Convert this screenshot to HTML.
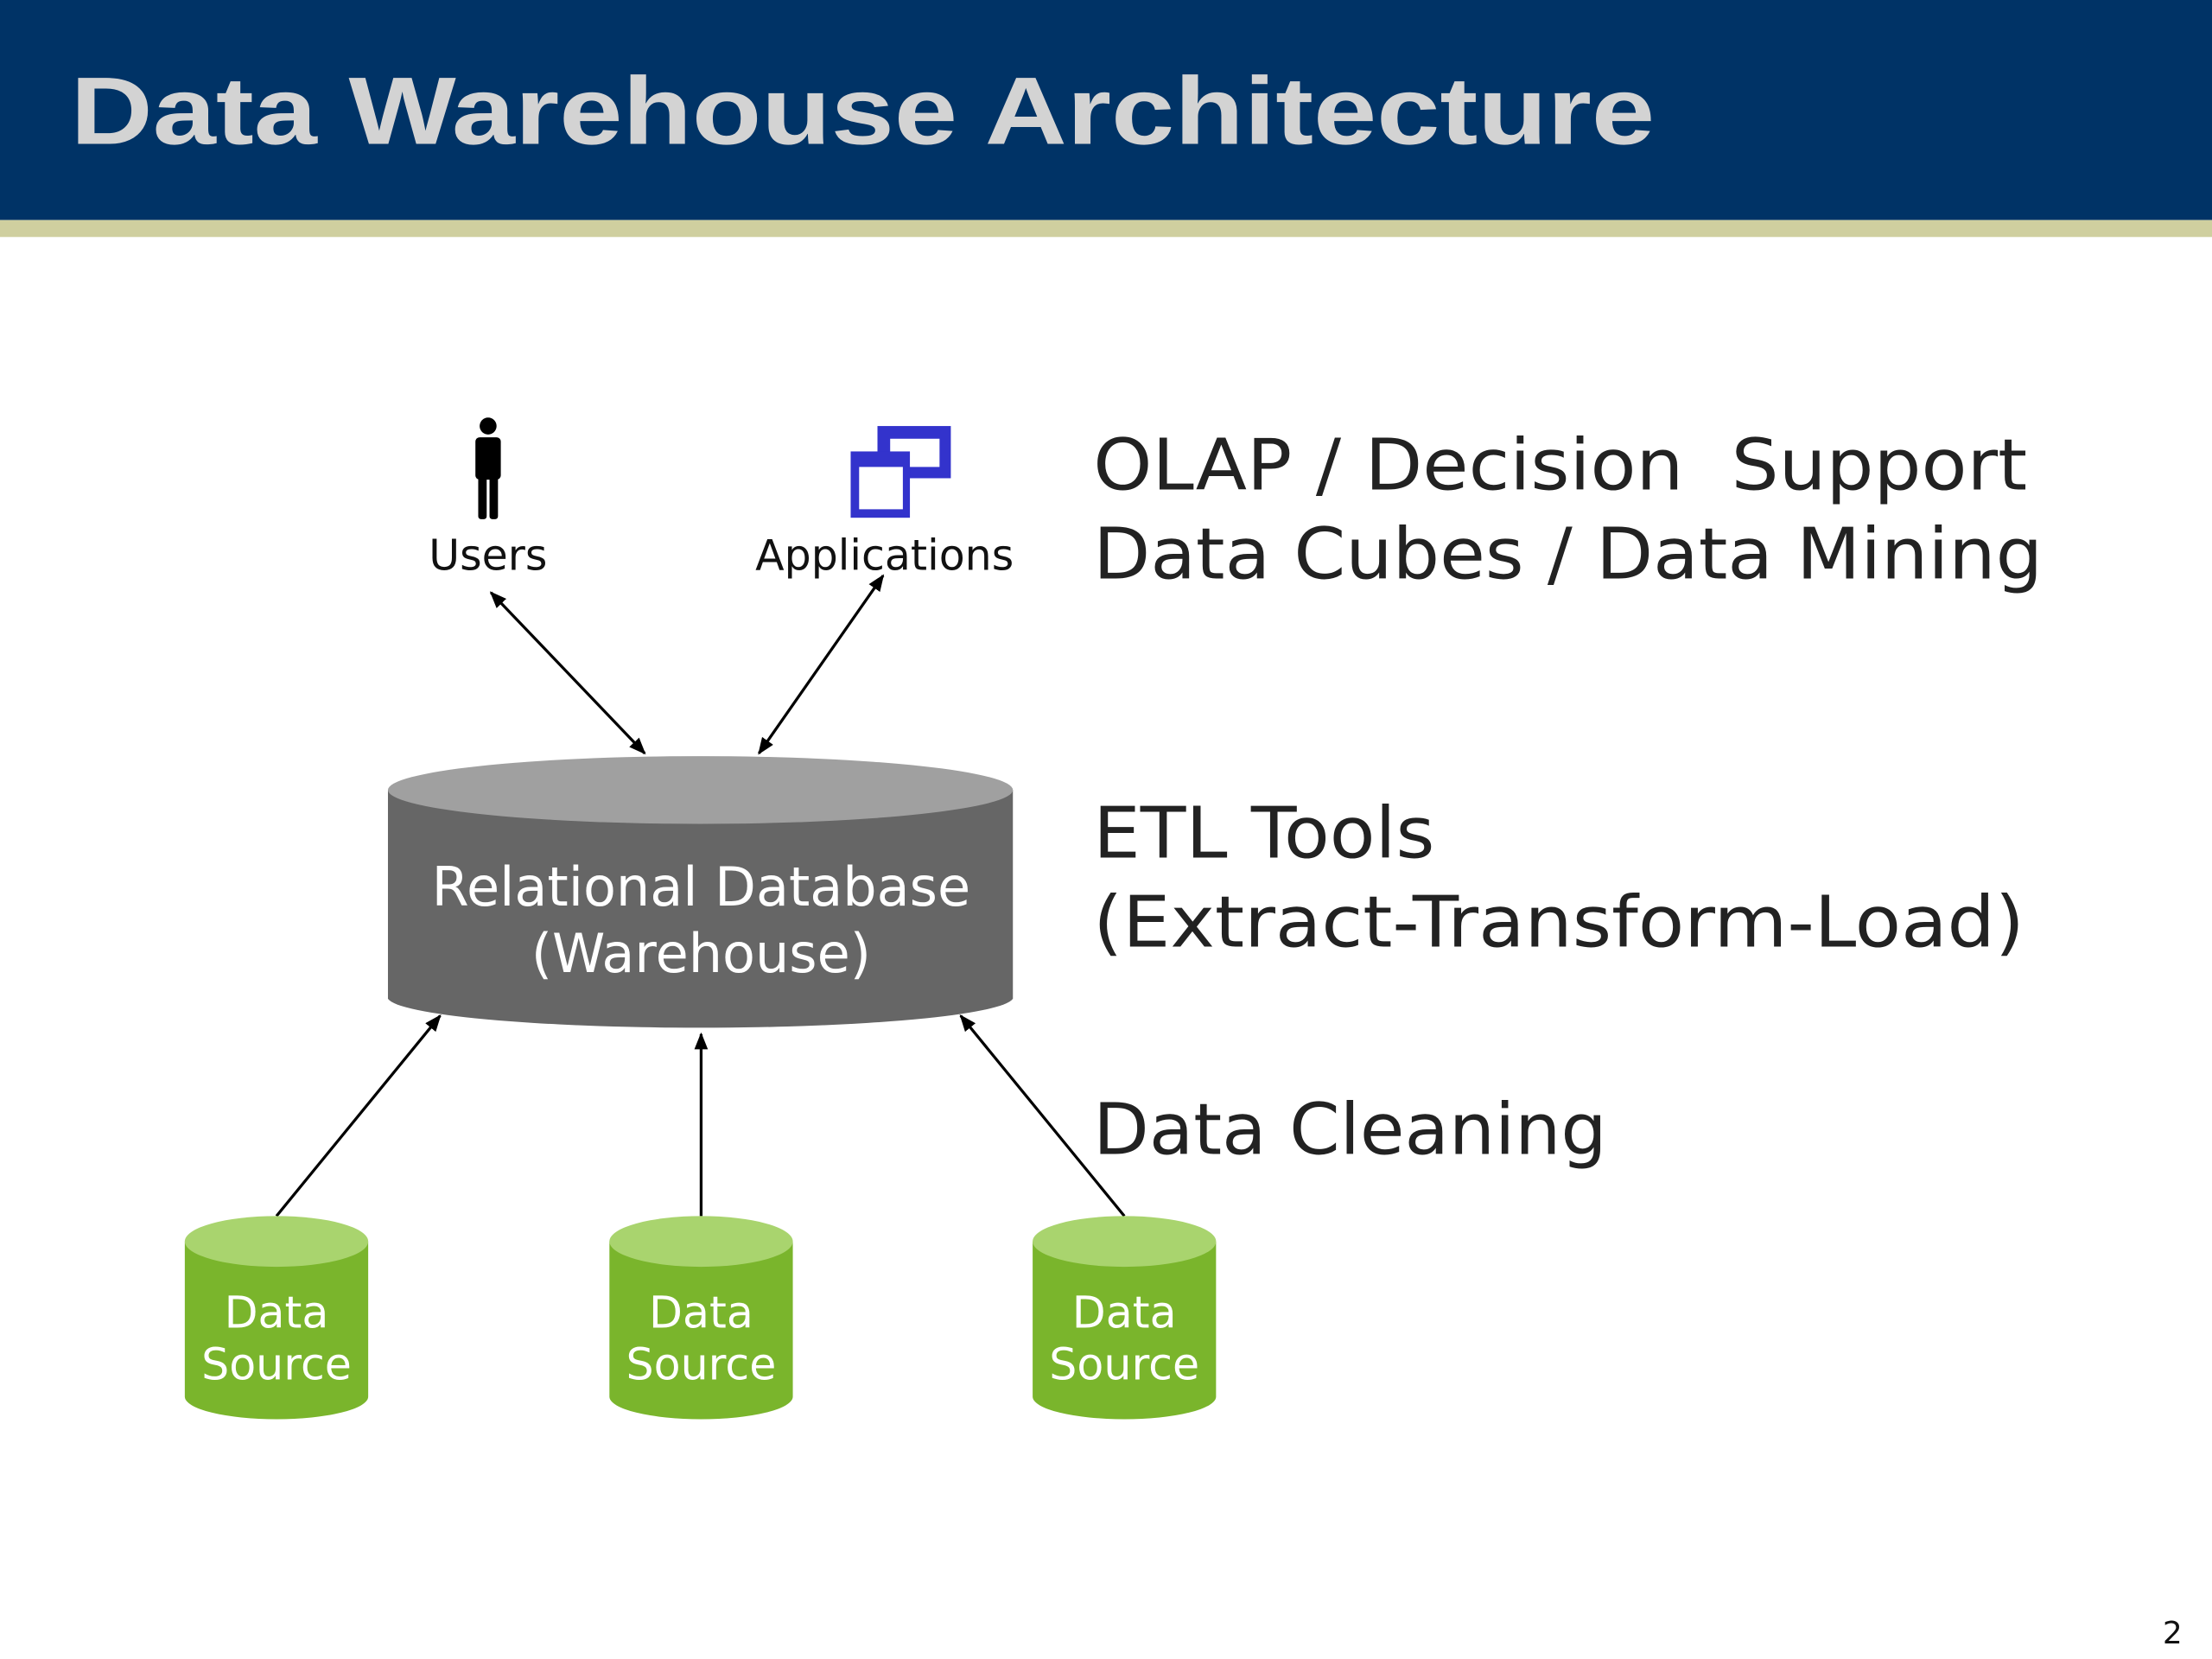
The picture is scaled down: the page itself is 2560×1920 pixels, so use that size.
<!DOCTYPE html>
<html><head><meta charset="utf-8"><style>html,body{margin:0;padding:0;background:#fff}svg{display:block}</style></head>
<body>
<svg width="2560" height="1920" viewBox="0 0 1568 1176" xmlns="http://www.w3.org/2000/svg" font-family="'DejaVu Sans','Liberation Sans',sans-serif">
<defs>
<marker id="ah" viewBox="0 0 10 10" refX="9" refY="5" markerWidth="12" markerHeight="12" orient="auto-start-reverse" markerUnits="userSpaceOnUse"><path d="M0,1 L10,5 L0,9 z" fill="#000"/></marker>
</defs>
<rect x="0" y="0" width="1568" height="156" fill="#003366"/>
<rect x="0" y="156" width="1568" height="12" fill="#cfcf9f"/>
<text x="50" y="102" font-family="'Liberation Sans',sans-serif" font-weight="bold" font-size="68" fill="#d3d3d3" textLength="1123" lengthAdjust="spacingAndGlyphs">Data Warehouse Architecture</text>

<!-- user icon -->
<g fill="#000">
<circle cx="346" cy="302" r="6"/>
<rect x="337" y="310" width="18" height="30" rx="3"/>
<rect x="339" y="334" width="6" height="34" rx="2"/>
<rect x="347" y="334" width="6" height="34" rx="2"/>
</g>
<text x="346" y="404" font-size="30" text-anchor="middle" fill="#111">Users</text>
<!-- app icon -->
<rect x="622" y="302" width="52" height="37" fill="#3333cc"/>
<rect x="631" y="311" width="35" height="20" fill="#fff"/>
<rect x="603" y="320" width="42" height="47" fill="#3333cc"/>
<rect x="609" y="331" width="31" height="30" fill="#fff"/>
<text x="627" y="404" font-size="30" text-anchor="middle" fill="#111">Applications</text>

<!-- arrows top -->
<line x1="348" y1="420" x2="457" y2="534" stroke="#000" stroke-width="2" marker-start="url(#ah)" marker-end="url(#ah)"/>
<line x1="626" y1="408" x2="538" y2="534" stroke="#000" stroke-width="2" marker-start="url(#ah)" marker-end="url(#ah)"/>

<!-- DB -->
<path d="M275,560 V708 A222,22 0 0 0 718,708 V560 z" fill="#666"/>
<ellipse cx="496.5" cy="560" rx="221.5" ry="24" fill="#a0a0a0"/>
<text x="497" y="642" font-size="38" text-anchor="middle" fill="#fff">Relational Database</text>
<text x="497" y="689" font-size="38" text-anchor="middle" fill="#fff">(Warehouse)</text>

<!-- arrows bottom -->
<line x1="196" y1="862" x2="312" y2="720" stroke="#000" stroke-width="2" marker-end="url(#ah)"/>
<line x1="497" y1="862" x2="497" y2="733" stroke="#000" stroke-width="2" marker-end="url(#ah)"/>
<line x1="797" y1="862" x2="681" y2="720" stroke="#000" stroke-width="2" marker-end="url(#ah)"/>

<!-- sources -->
<g id="src">
<path d="M131,880 V990 A65,16 0 0 0 261,990 V880 z" fill="#7ab52c"/>
<ellipse cx="196" cy="880" rx="65" ry="18" fill="#a9d46e"/>
<text x="196" y="941" font-size="31" text-anchor="middle" fill="#fff">Data</text>
<text x="196" y="978" font-size="31" text-anchor="middle" fill="#fff">Source</text>
</g>
<use href="#src" x="301"/>
<use href="#src" x="601"/>

<!-- right text -->
<g font-size="50" fill="#222">
<text x="775" y="347" textLength="662" lengthAdjust="spacingAndGlyphs" xml:space="preserve">OLAP / Decision  Support</text>
<text x="775" y="410" textLength="673" lengthAdjust="spacingAndGlyphs">Data Cubes / Data Mining</text>
<text x="775" y="608" textLength="242" lengthAdjust="spacingAndGlyphs">ETL Tools</text>
<text x="775" y="671" textLength="660" lengthAdjust="spacingAndGlyphs">(Extract-Transform-Load)</text>
<text x="775" y="818" textLength="364" lengthAdjust="spacingAndGlyphs">Data Cleaning</text>
</g>
<text x="1533" y="1165" font-size="22" fill="#111">2</text>
</svg>
</body></html>
